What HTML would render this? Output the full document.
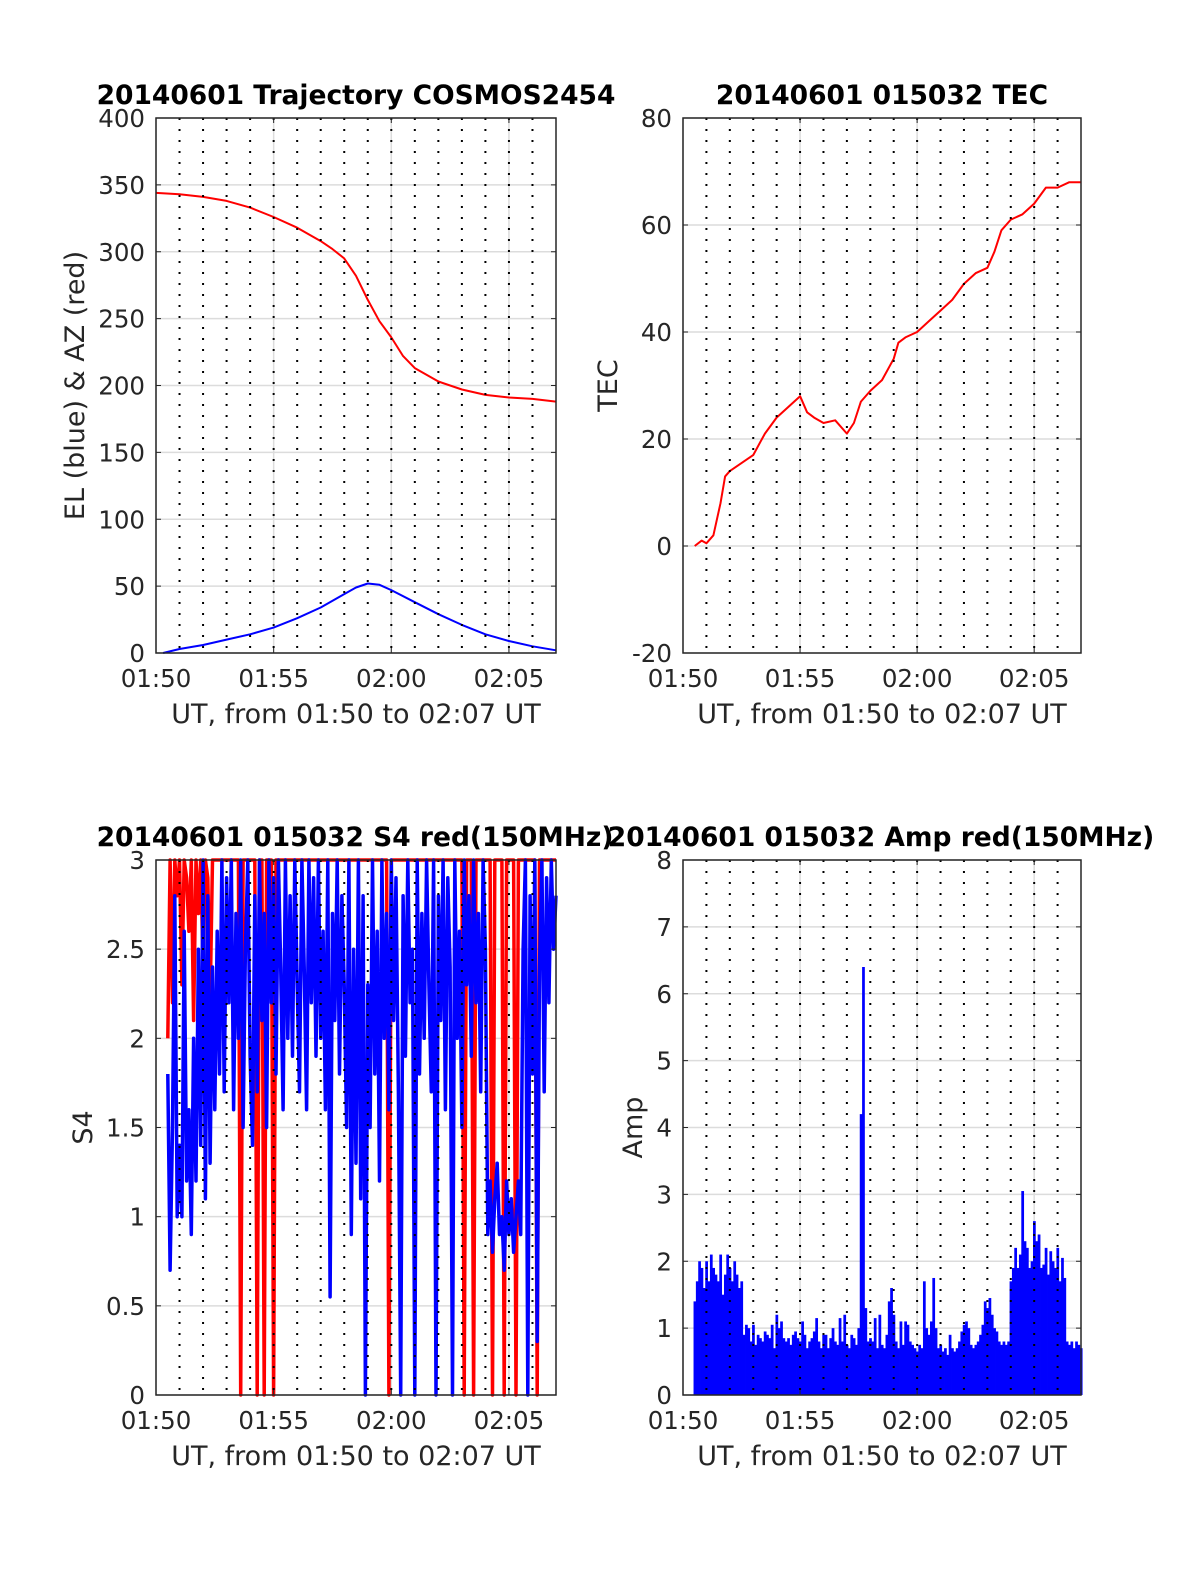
<!DOCTYPE html>
<html><head><meta charset="utf-8">
<style>
html,body{margin:0;padding:0;background:#fff;overflow:hidden;}
svg{display:block;font-family:"DejaVu Sans","Liberation Sans",sans-serif;}
</style></head>
<body>
<svg id="fig" width="1200" height="1575" viewBox="0 0 1200 1575" xmlns="http://www.w3.org/2000/svg"></svg>
<script>
// ---- Data ----
const xTickLabels = ["01:50","01:55","02:00","02:05"];
const xTickMinutes = [0,5,10,15];
// Trajectory
const trajTime = [0,1,2,3,4,5,6,7,7.5,8,8.5,9,9.5,10,10.5,11,12,13,14,15,16,17];
const azValues = [344,343,341,338,333,326,318,308,302,295,282,264,248,236,222,213,203,197,193,191,190,188];
const elTime = [0.3,1,2,3,4,5,6,7,8,8.5,9,9.5,10,11,12,13,14,15,16,17];
const elValues = [0,3,6,10,14,19,26,34,44,49,52,51,47,38,29,21,14,9,5,2];
const trajYTicks = [0,50,100,150,200,250,300,350,400];
// TEC
const tecTime = [0.5,0.8,1,1.3,1.6,1.8,2,2.5,3,3.5,4,4.5,5,5.3,5.6,6,6.5,7,7.3,7.6,8,8.5,9,9.2,9.5,10,10.5,11,11.5,12,12.5,13,13.3,13.6,14,14.5,15,15.5,16,16.5,17];
const tecValues = [0,1,0.5,2,8,13,14,15.5,17,21,24,26,28,25,24,23,23.5,21,23,27,29,31,35,38,39,40,42,44,46,49,51,52,55,59,61,62,64,67,67,68,68];
const tecYTicks = [-20,0,20,40,60,80];
// S4 (t from 0.5 step 0.1)
const s4Start = 0.5, s4Step = 0.1;
const s4Blue = [1.8,0.7,1.5,2.8,1.0,1.4,1.0,2.6,1.2,1.6,0.9,
2.0,1.2,2.5,1.4,3.0,1.1,2.8,1.3,2.4,1.6,
2.6,1.8,3.0,1.7,2.9,2.2,3.0,1.6,2.7,2.0,3.0,1.5,2.5,3.0,1.9,
1.4,2.8,1.7,3.0,2.1,2.7,1.5,3.0,2.2,2.9,1.8,3.0,2.4,1.6,3.0,2.0,2.8,1.9,3.0,2.3,
1.7,3.0,2.4,1.6,3.0,2.2,2.9,1.9,3.0,2.0,2.6,1.6,3.0,0.55,2.7,2.1,3.0,1.8,2.8,2.3,
1.5,3.0,0.9,2.5,1.3,3.0,1.1,2.8,0.0,2.3,1.5,3.0,1.8,2.6,1.2,
3.0,2.0,2.7,1.6,3.0,2.1,2.9,1.7,0.0,2.8,1.9,3.0,2.2,2.5,0.0,3.0,1.8,2.7,2.0,3.0,
2.3,1.7,3.0,0.0,2.8,2.1,3.0,1.6,2.9,2.4,0.0,3.0,2.0,2.6,1.5,3.0,2.3,2.8,1.9,3.0,2.2,2.7,1.7,3.0,2.5,
0.9,1.2,0.8,1.1,1.3,0.9,1.0,0.7,1.2,0.9,1.1,0.8,1.0,1.2,0.9,
2.5,3.0,0.0,2.8,1.8,3.0,0.3,2.4,3.0,1.7,2.9,2.2,3.0,2.5,2.8];
const s4Red = [2.0,3.0,2.2,3.0,2.8,3.0,2.3,3.0,2.9,2.6,3.0,2.1,3.0,2.7,3.0,2.4,3.0,2.9,2.2,3.0,3.0,
3,3,3,3,3,3,3,3,3,3,
0,
3,3,3,3,3,3,
0,3,3,0,3,3,3,0,
3,3,3,3,3,3,3,3,3,3,3,3,3,3,3,3,3,3,3,3,3,3,3,3,3,3,3,3,3,3,
3,3,3,3,3,3,3,3,3,3,3,3,3,3,3,3,3,3,
0,
3,3,3,3,3,3,3,3,3,3,3,3,3,3,3,3,3,3,3,3,3,3,3,3,3,3,3,3,3,3,3,
0,3,3,3,0,3,3,3,3,3,3,3,
0,3,3,3,3,0,3,3,3,3,0,3,3,3,3,3,3,3,3,0,3,3,3,3,3,3,3,3];
const s4YTicks = [0,0.5,1,1.5,2,2.5,3];
const s4YTickLabels = ["0","0.5","1","1.5","2","2.5","3"];
// Amp (t from 0.5 step 0.1)
const ampStart = 0.5, ampStep = 0.1;
const ampValues = [1.4,1.7,2.0,1.9,1.6,2.0,1.7,2.1,1.9,1.8,1.7,2.1,1.5,1.8,2.1,1.9,1.7,2.0,1.8,1.6,1.7,
0.9,1.05,1.0,0.8,1.05,0.75,0.9,0.85,0.8,0.95,0.9,0.85,1.05,0.7,1.2,1.0,1.1,0.85,0.8,0.85,0.75,0.9,0.95,0.85,0.8,1.1,0.9,0.7,0.8,0.85,0.95,1.15,0.8,0.7,0.9,0.9,0.7,0.85,1.0,0.8,0.75,1.15,0.8,1.2,0.75,0.7,0.9,0.85,0.75,1.0,
4.2,6.4,1.3,
0.8,0.85,0.8,1.15,0.7,1.2,0.75,0.7,0.9,1.4,1.6,1.2,
0.8,0.7,1.1,0.75,1.1,1.05,0.8,0.75,0.7,0.65,0.75,0.7,1.7,1.0,0.9,1.1,
1.75,1.0,
0.7,0.75,0.65,0.7,0.6,0.9,0.7,0.65,0.7,0.8,0.95,1.05,1.1,1.0,0.75,0.7,0.75,0.8,0.9,
1.05,1.4,1.3,1.45,1.2,1.0,0.95,0.8,0.75,
0.8,0.75,0.8,1.7,1.9,2.2,
1.9,2.1,3.05,2.3,2.2,1.9,2.0,2.6,2.3,2.4,1.9,1.95,2.2,1.8,2.15,2.0,1.9,2.2,1.7,2.05,1.75,
0.8,0.75,0.8,0.7,0.8,0.75,0.7];
const ampYTicks = [0,1,2,3,4,5,6,7,8];

// ---- Drawing ----
const NS="http://www.w3.org/2000/svg";
const fig=document.getElementById('fig');
function mk(tag,attrs,parent){const e=document.createElementNS(NS,tag);for(const k in attrs)e.setAttribute(k,attrs[k]);(parent||fig).appendChild(e);return e;}

function makeAxes(name,x0,y0,w,h,ymin,ymax,yticks,ylabels,title,ytitle,titleX,ytx){
  const g=mk('g',{});
  
  
  const sx=t=>x0+t/17*w;
  const sy=v=>y0+h-(v-ymin)/(ymax-ymin)*h;
  yticks.forEach(v=>{const l=mk('line',{x1:x0,x2:x0+w,y1:sy(v),y2:sy(v),stroke:'#dcdcdc','stroke-width':1.5},g);
    });
  xTickMinutes.forEach(t=>{const l=mk('line',{x1:sx(t),x2:sx(t),y1:y0,y2:y0+h,stroke:'#dcdcdc','stroke-width':1.5},g);
    });
  const plot=mk('g',{},g);
  
  
  const over=mk('g',{},g);
  const tt=mk('text',{x:titleX||x0+w/2,y:y0-14,'text-anchor':'middle','font-size':'26.5','font-weight':'bold',fill:'#000'},g);
  tt.textContent=title;
  yticks.forEach((v,i)=>{const t=mk('text',{x:x0-11,y:sy(v)+9,'text-anchor':'end','font-size':'24.5',fill:'#262626'},g);
    t.textContent=ylabels?ylabels[i]:String(v);
    mk('line',{x1:x0,x2:x0+5,y1:sy(v),y2:sy(v),stroke:'#262626','stroke-width':1},over);
    mk('line',{x1:x0+w,x2:x0+w-5,y1:sy(v),y2:sy(v),stroke:'#262626','stroke-width':1},over);});
  xTickMinutes.forEach((t,i)=>{const tx=mk('text',{x:sx(t),y:y0+h+34,'text-anchor':'middle','font-size':'24.5',fill:'#262626'},g);
    tx.textContent=xTickLabels[i];});
  const xt=mk('text',{x:x0+w/2,y:y0+h+70,'text-anchor':'middle','font-size':'27',fill:'#262626'},g);
  xt.textContent='UT, from 01:50 to 02:07 UT';
  const yx=ytx, yy=y0+h/2;
  const yt=mk('text',{x:yx,y:yy,'text-anchor':'middle','font-size':'27',fill:'#262626',transform:`rotate(-90 ${yx} ${yy})`},g);
  yt.textContent=ytitle;
  return {g,plot,over,sx,sy,x0,y0,w,h};
}
function finish(ax){
  for(let m=1;m<17;m++){const l=mk('line',{x1:ax.sx(m),x2:ax.sx(m),y1:ax.y0,y2:ax.y0+ax.h,stroke:'#000','stroke-width':2,'stroke-dasharray':'2 9'},ax.over);
    }
  xTickMinutes.forEach(t=>{mk('line',{x1:ax.sx(t),x2:ax.sx(t),y1:ax.y0+ax.h,y2:ax.y0+ax.h-5,stroke:'#262626'},ax.over);
    mk('line',{x1:ax.sx(t),x2:ax.sx(t),y1:ax.y0,y2:ax.y0+5,stroke:'#262626'},ax.over);});
  const b=mk('rect',{x:ax.x0,y:ax.y0,width:ax.w,height:ax.h,fill:'none',stroke:'#262626','stroke-width':1.5},ax.over);
  
  ax.g.appendChild(ax.over);
}
function line(ax,ts,vs,color,sw,name){
  const pts=ts.map((t,i)=>ax.sx(t).toFixed(1)+','+ax.sy(vs[i]).toFixed(1)).join(' ');
  const p=mk('polyline',{points:pts,fill:'none',stroke:color,'stroke-width':sw,'stroke-linejoin':'round'},ax.plot);
  
}

const a1=makeAxes('trajectory-chart',156,118,400,535,0,400,trajYTicks,null,'20140601 Trajectory COSMOS2454','EL (blue) & AZ (red)',356,84);
line(a1,trajTime,azValues,'#ff0000',2,'az-line');
line(a1,elTime,elValues,'#0000ff',2,'el-line');
finish(a1);

const a2=makeAxes('tec-chart',683,118,398,535,-20,80,tecYTicks,null,'20140601 015032 TEC','TEC',882,617);
line(a2,tecTime,tecValues,'#ff0000',2,'tec-line');
finish(a2);

const a3=makeAxes('s4-chart',156,860,400,535,0,3,s4YTicks,s4YTickLabels,'20140601 015032 S4 red(150MHz)','S4',355,92);
line(a3,s4Red.map((v,i)=>s4Start+i*s4Step),s4Red,'#ff0000',3.5,'s4-red-line');
line(a3,s4Blue.map((v,i)=>s4Start+i*s4Step),s4Blue,'#0000ff',3.5,'s4-blue-line');
finish(a3);

const a4=makeAxes('amp-chart',683,860,398,535,0,8,ampYTicks,null,'20140601 015032 Amp red(150MHz)','Amp',881,642);
ampValues.forEach((v,i)=>{
  const t=ampStart+i*ampStep;
  const x1=a4.sx(t-ampStep/2), x2=a4.sx(t+ampStep/2);
  const r=mk('rect',{x:x1,y:a4.sy(v),width:Math.max(0.5,x2-x1+0.4),height:a4.sy(0)-a4.sy(v),fill:'#0000ff'},a4.plot);
  
  
});
finish(a4);
</script>
</body></html>
